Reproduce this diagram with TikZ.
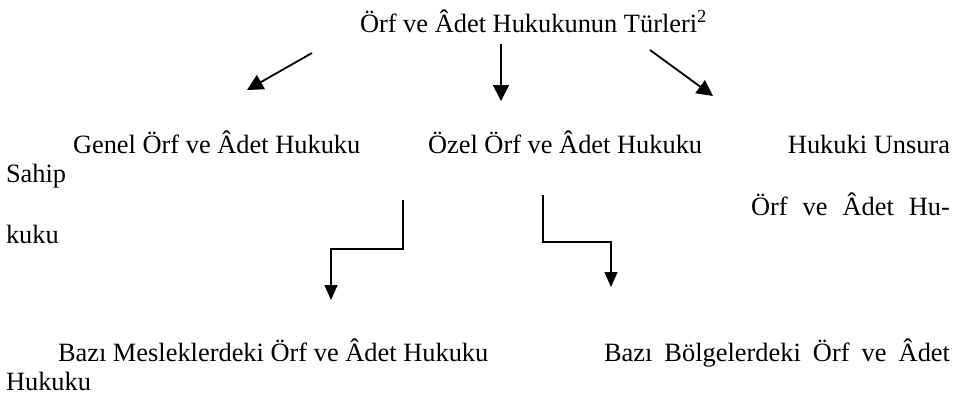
\documentclass[tikz,border=0pt]{standalone}
\usepackage{fontspec}
\setmainfont{Liberation Serif}
\usetikzlibrary{arrows.meta}
\begin{document}
\begin{tikzpicture}[x=1pt,y=-1pt,
  txt/.style={inner sep=0pt,outer sep=0pt,font=\fontsize{26.4}{30}\selectfont},
  bigarrow/.style={line width=1.8pt,-{Triangle[length=16pt,width=16pt]}},
  elbowarrow/.style={line width=1.2pt,-{Triangle[length=15pt,width=13pt]}}]
\useasboundingbox (0,0) rectangle (961,402);
% texts
\node[txt,anchor=base west] (title) at (360,32) {Örf ve Âdet Hukukunun Türleri\textsuperscript{2}};
\node[txt,anchor=base west] (genel) at (73,153) {Genel Örf ve Âdet Hukuku};
\node[txt,anchor=base west] (ozel) at (428,153) {Özel Örf ve Âdet Hukuku};
\node[txt,anchor=base east] (hukuki) at (950,153) {Hukuki Unsura};
\node[txt,anchor=base west] (sahip) at (6,182) {Sahip};
\node[txt,anchor=base east] (orfhu) at (950,215) {\makebox[199pt][s]{Örf ve Âdet Hu-}};
\node[txt,anchor=base west] (kuku) at (6,243) {kuku};
\node[txt,anchor=base west] (meslek) at (58,361) {Bazı Mesleklerdeki Örf ve Âdet Hukuku};
\node[txt,anchor=base east] (bolge) at (950,361) {\makebox[346pt][s]{Bazı Bölgelerdeki Örf ve Âdet}};
\node[txt,anchor=base west] (hukuku) at (6,390) {Hukuku};
% arrow end points
\coordinate (la1) at (312,53);  \coordinate (la2) at (247,90);
\coordinate (ma1) at (501,44);  \coordinate (ma2) at (501,101);
\coordinate (ra1) at (650,50);  \coordinate (ra2) at (713,96);
\coordinate (le1) at (403,200); \coordinate (le2) at (331,300);
\coordinate (re1) at (543,195); \coordinate (re2) at (611,287);
% arrows
\draw[bigarrow] (la1) -- (la2);
\draw[bigarrow] (ma1) -- (ma2);
\draw[bigarrow] (ra1) -- (ra2);
\draw[elbowarrow] (le1) -- (403,249) -- (331,249) -- (le2);
\draw[elbowarrow] (re1) -- (543,242) -- (611,242) -- (re2);
\end{tikzpicture}
\end{document}
